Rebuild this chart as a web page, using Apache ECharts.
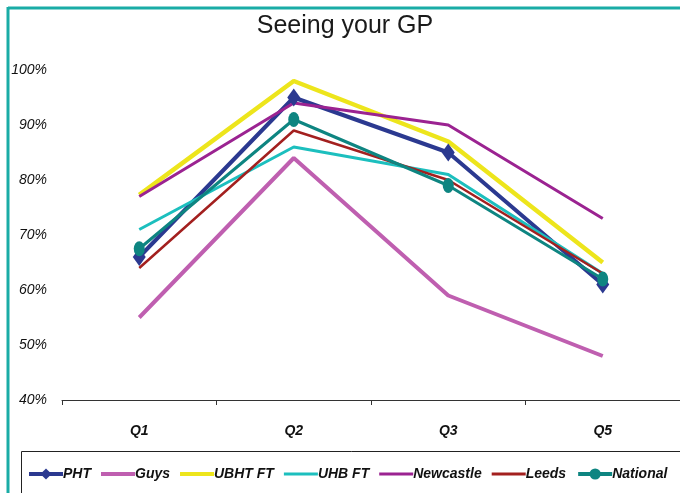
<!DOCTYPE html>
<html>
<head>
<meta charset="utf-8">
<script src="https://cdn.jsdelivr.net/npm/echarts@6/dist/echarts.min.js"></script>
<style>
html,body{margin:0;padding:0;background:#fff;}
#chart{width:680px;height:493px;}
</style>
</head>
<body>
<div id="chart"></div>
<script>
const categories = ['Q1', 'Q2', 'Q3', 'Q5'];
const yTicks = [40, 50, 60, 70, 80, 90, 100];
const PHT = [66, 95, 85, 61];
const Guys = [55, 84, 59, 48];
const UBHT = [77.3, 98, 87, 65];
const UHB = [71, 86, 81, 63];
const Newcastle = [77, 94, 90, 73];
const Leeds = [64, 89, 80, 63];
const National = [67.5, 91, 79, 62];

const FONT = '"Liberation Sans", Arial, sans-serif';

const chart = echarts.init(document.getElementById('chart'), null, {renderer: 'canvas'});

function line(name, data, color, width, symbol, symSize) {
  return {
    name: name,
    type: 'line',
    data: data,
    symbol: symbol || 'none',
    symbolSize: symSize || 0,
    showSymbol: !!symbol,
    lineStyle: {color: color, width: width},
    itemStyle: {color: color},
    emphasis: {disabled: true},
    animation: false
  };
}

const thick = 'path://M0,0H34V4H0Z';
const thin = 'path://M0,0H34V3H0Z';

chart.setOption({
  animation: false,
  title: {
    text: 'Seeing your GP',
    left: 340,
    textAlign: 'center',
    top: 9,
    textStyle: {fontFamily: FONT, fontSize: 25, fontWeight: 'normal', color: '#1a1a1a'}
  },
  grid: {left: 62, top: 70, width: 620, height: 330, containLabel: false},
  xAxis: {
    type: 'category',
    data: categories,
    boundaryGap: true,
    axisLine: {show: true, lineStyle: {color: '#333', width: 1}},
    axisTick: {show: true, length: 5, lineStyle: {color: '#333'}},
    axisLabel: {margin: 24, fontFamily: FONT, fontStyle: 'italic', fontWeight: 'bold', fontSize: 14, color: '#111'},
    splitLine: {show: false}
  },
  yAxis: {
    type: 'value',
    min: 40,
    max: 100,
    interval: 10,
    axisLine: {show: false},
    axisTick: {show: false},
    splitLine: {show: false},
    axisLabel: {
      margin: 15,
      fontFamily: FONT, fontStyle: 'italic', fontSize: 14, color: '#111',
      formatter: function (v) { return yTicks.indexOf(v) >= 0 ? v + '%' : ''; }
    }
  },
  legend: {
    left: 22,
    top: 462,
    itemWidth: 34,
    itemHeight: 14,
    itemGap: 10,
    textStyle: {fontFamily: FONT, fontStyle: 'italic', fontWeight: 'bold', fontSize: 14, color: '#111', padding: [0, 0, 0, -5]},
    data: [
      {name: 'PHT', lineStyle: {width: 4}},
      {name: 'Guys', icon: thick},
      {name: 'UBHT FT', icon: thick},
      {name: 'UHB FT', icon: thin},
      {name: 'Newcastle', icon: thin},
      {name: 'Leeds', icon: thin},
      {name: 'National', lineStyle: {width: 4}}
    ]
  },
  graphic: [
    {type: 'line', shape: {x1: 8, y1: 8, x2: 680, y2: 8}, style: {stroke: '#1aaca6', lineWidth: 3}, z: 100},
    {type: 'line', shape: {x1: 8, y1: 7, x2: 8, y2: 493}, style: {stroke: '#1aaca6', lineWidth: 3}, z: 100},
    {type: 'rect', shape: {x: 21.5, y: 451.5, width: 700, height: 100}, style: {fill: 'none', stroke: '#222', lineWidth: 1}, z: 100}
  ],
  series: [
    line('PHT', PHT, '#2b3990', 4, 'diamond', [13, 18]),
    line('Guys', Guys, '#bf5fb0', 4),
    line('UBHT FT', UBHT, '#ede51c', 4.5),
    line('UHB FT', UHB, '#1cbfbe', 3),
    line('Newcastle', Newcastle, '#9b2391', 3),
    line('Leeds', Leeds, '#a3201f', 2.5),
    line('National', National, '#0e8581', 3, 'circle', [11, 15])
  ]
});
</script>
</body>
</html>
